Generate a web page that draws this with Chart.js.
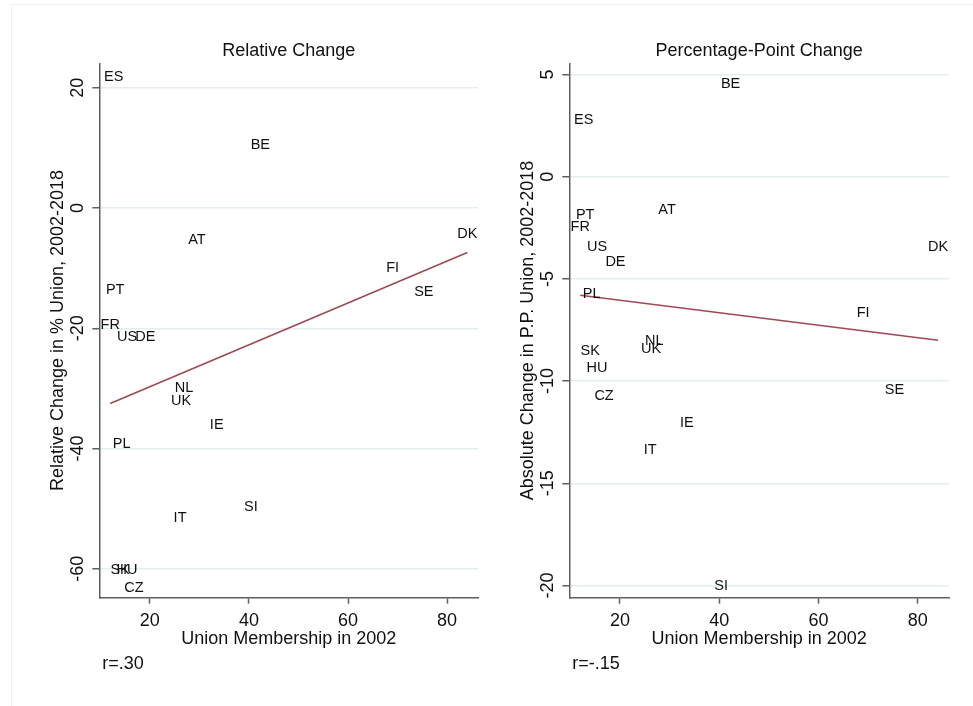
<!DOCTYPE html>
<html>
<head>
<meta charset="utf-8">
<script src="https://cdn.jsdelivr.net/npm/chart.js@4.4.0/dist/chart.umd.min.js"></script>
<style>
  html, body { margin: 0; padding: 0; background: #fff; }
  #wrap { position: relative; width: 973px; height: 706px; overflow: hidden; }
  #frame { position: absolute; left: 11px; top: 4px; width: 980px; height: 720px;
           border-left: 1px solid #f0f0f0; border-top: 1px solid #f0f0f0; }
  canvas { position: absolute; top: 0; }
  #left { left: 0; }
  #right { left: 486px; }
</style>
</head>
<body>
<div id="wrap">
  <div id="frame"></div>
  <canvas id="left" width="486" height="706"></canvas>
  <canvas id="right" width="487" height="706"></canvas>
</div>
<script>
// values
var countries = ['AT', 'BE', 'CZ', 'DE', 'DK', 'ES', 'FI', 'FR', 'HU', 'IE', 'IT', 'NL', 'PL', 'PT', 'SE', 'SI', 'SK', 'UK', 'US'];
var union2002 = [29.5, 42.3, 16.8, 19.1, 84.1, 12.7, 69.0, 12.0, 15.4, 33.5, 26.1, 26.9, 14.3, 13.0, 75.3, 40.4, 14.0, 26.3, 15.4];
var relChange = [-5.2, 10.6, -63.1, -21.3, -4.2, 21.9, -9.8, -19.3, -60.0, -36.0, -51.3, -29.7, -39.0, -13.5, -13.8, -49.5, -60.0, -31.9, -21.3];
var ppChange = [-1.6, 4.6, -10.7, -4.1, -3.4, 2.8, -6.6, -2.4, -9.3, -12.0, -13.3, -8.0, -5.7, -1.8, -10.4, -20.0, -8.5, -8.4, -3.4];

// fitted lines (end points)
var fitX = [12.0, 84.1];
var relFitY = [-32.5, -7.4];
var ppFitY = [-5.8, -8.0];

var xTicks = [20, 40, 60, 80];
var relTicks = [-60, -40, -20, 0, 20];
var ppTicks = [-20, -15, -10, -5, 0, 5];

var FONT = '"Liberation Sans", Arial, Helvetica, sans-serif';
var ink = '#111111';
var axisGrey = '#5f5f5f';
var gridBlue = '#e4edf0';
var fitRed = '#9d4a53';

var panelText = {
  id: 'panelText',
  afterDraw: function(chart, args, opts) {
    var ctx = chart.ctx, a = chart.chartArea;
    ctx.save();
    ctx.fillStyle = ink;
    ctx.font = '18px ' + FONT;
    ctx.textBaseline = 'middle';
    ctx.textAlign = 'center';
    ctx.fillText(opts.title, (a.left + a.right) / 2, a.top - 12.5);
    ctx.textAlign = 'left';
    ctx.fillText(opts.note, a.left + 3, opts.noteY);
    ctx.restore();
  }
};

var pointLabels = {
  id: 'pointLabels',
  afterDatasetsDraw: function(chart) {
    var ctx = chart.ctx;
    var meta = chart.getDatasetMeta(0);
    ctx.save();
    ctx.font = '14.5px ' + FONT;
    ctx.fillStyle = ink;
    ctx.textAlign = 'center';
    ctx.textBaseline = 'middle';
    meta.data.forEach(function(pt, i) {
      ctx.fillText(countries[i], pt.x, pt.y + 1);
    });
    ctx.restore();
  }
};

function makePanel(id, yVals, fitY, yTicks, yMin, yMax, cfg) {
  var ctx = document.getElementById(id).getContext('2d');
  return new Chart(ctx, {
    type: 'scatter',
    data: {
      datasets: [{
        data: union2002.map(function(x, i) { return {x: x, y: yVals[i]}; }),
        pointRadius: 0,
        pointHoverRadius: 0
      }, {
        data: fitX.map(function(x, i) { return {x: x, y: fitY[i]}; }),
        showLine: true,
        borderColor: fitRed,
        borderWidth: 1.6,
        pointRadius: 0,
        fill: false
      }]
    },
    options: {
      responsive: false,
      animation: false,
      events: [],
      layout: { padding: { left: 0, top: 63.3, right: cfg.padRight, bottom: 56.5 } },
      plugins: {
        legend: { display: false },
        tooltip: { enabled: false },
        panelText: { title: cfg.title, note: cfg.note, noteY: 664 }
      },
      scales: {
        x: {
          type: 'linear',
          min: 9.8,
          max: 86.3,
          afterBuildTicks: function(s) { s.ticks = xTicks.map(function(v) { return {value: v}; }); },
          afterFit: function(s) { s.height = 51.8; },
          grid: { drawOnChartArea: false, tickLength: 6, tickColor: axisGrey, tickWidth: 1.5 },
          border: { display: true, color: axisGrey, width: 1.5 },
          ticks: {
            color: ink, font: { family: FONT, size: 18 }, padding: 6.5,
            maxRotation: 0, autoSkip: false,
            callback: function(v) { return String(v); }
          },
          title: {
            display: true, text: 'Union Membership in 2002', color: ink,
            font: { family: FONT, size: 18 }, padding: { top: 0, bottom: 0 }
          }
        },
        y: {
          type: 'linear',
          min: yMin,
          max: yMax,
          afterBuildTicks: function(s) { s.ticks = yTicks.map(function(v) { return {value: v}; }); },
          afterFit: function(s) { s.width = cfg.yWidth; },
          grid: { color: gridBlue, lineWidth: 1.5, tickLength: 7, tickColor: axisGrey, tickWidth: 1.5 },
          border: { display: true, color: axisGrey, width: 1.5 },
          ticks: {
            color: ink, font: { family: FONT, size: 18 }, padding: 1,
            minRotation: 90, maxRotation: 90, crossAlign: 'center', autoSkip: false,
            callback: function(v) { return String(v); }
          },
          title: {
            display: true, text: cfg.yTitle, color: ink,
            font: { family: FONT, size: 18 }, padding: { top: cfg.yTitlePad, bottom: 0 }
          }
        }
      }
    },
    plugins: [pointLabels, panelText]
  });
}

makePanel('left', relChange, relFitY, relTicks, -64.8, 24.06, {
  title: 'Relative Change', note: 'r=.30',
  yTitle: 'Relative Change in % Union, 2002-2018',
  yWidth: 99.3, yTitlePad: 47.2, padRight: 7.7
});

makePanel('right', ppChange, ppFitY, ppTicks, -20.6, 5.55, {
  title: 'Percentage-Point Change', note: 'r=-.15',
  yTitle: 'Absolute Change in P.P. Union, 2002-2018',
  yWidth: 83.3, yTitlePad: 31.2, padRight: 24
});
</script>
</body>
</html>
